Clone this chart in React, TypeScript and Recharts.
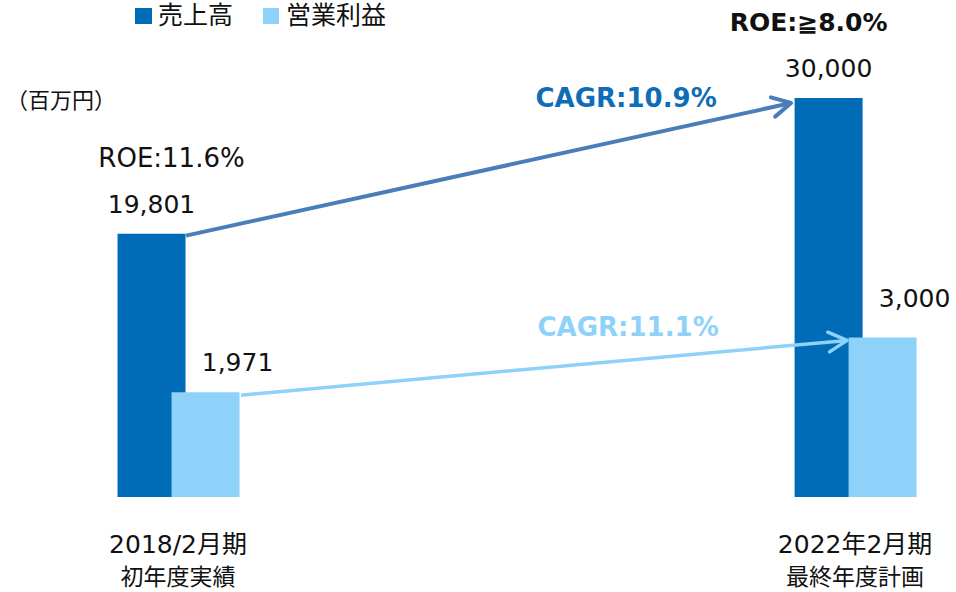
import { BarChart, Bar, XAxis, YAxis, LabelList, ReferenceLine } from 'recharts';

const periods = ['2018/2月期', '2022年2月期'];
const periodNotes = ['初年度実績', '最終年度計画'];
const sales = [19801, 30000];
const profit = [1971, 3000];
const roe = ['ROE:11.6%', 'ROE:≧8.0%'];
const cagr = ['CAGR:10.9%', 'CAGR:11.1%'];
const seriesNames = ['売上高', '営業利益'];

const DARK = '#006bb6';
const LIGHT = '#8fd2f9';
const DARK_ARROW = '#4a7ebb';
const FONT = "'DejaVu Sans', 'Noto Sans CJK JP', sans-serif";

const data = periods.map((p, i) => ({ x: i, period: p, sales: sales[i], profit: profit[i] }));

const fmt = (v: number) => Number(v).toLocaleString('en-US');

function SalesLabel(p: any) {
  const x = Number(p.x), y = Number(p.y), w = Number(p.width);
  const i = p.index;
  const cx = x + w / 2;
  return (
    <g>
      <text x={cx} y={y - 21} textAnchor="middle" fontSize={25} fill="#111">{fmt(p.value)}</text>
      <text
        x={cx + (i === 0 ? 20 : -20)}
        y={y - 67}
        textAnchor="middle"
        fontSize={i === 0 ? 26 : 25}
        fontWeight={i === 1 ? 'bold' : 'normal'}
        fill="#111"
      >
        {roe[i]}
      </text>
    </g>
  );
}

function ProfitLabel(p: any) {
  const x = Number(p.x), y = Number(p.y), w = Number(p.width);
  const i = p.index;
  return (
    <text x={x + w / 2 + 32} y={y - (i === 0 ? 21 : 30)} textAnchor="middle" fontSize={25} fill="#111">
      {fmt(p.value)}
    </text>
  );
}

function PeriodTick(p: any) {
  const i = p.payload.value;
  return (
    <g>
      <text x={p.x} y={p.y} dy={48} textAnchor="middle" fontSize={25} fill="#111">{periods[i]}</text>
      <text x={p.x} y={p.y} dy={80} textAnchor="middle" fontSize={23} fill="#111">{periodNotes[i]}</text>
    </g>
  );
}

function makeArrow(color: string, width: number, label: string, labelColor: string, o: any) {
  return (p: any) => {
    const sx = p.x1 + o.sx, sy = p.y1 + o.sy;
    const ex = p.x2 + o.ex, ey = p.y2 + o.ey;
    const ang = Math.atan2(ey - sy, ex - sx);
    const L = 21, a = 0.49;
    const h1 = [ex - L * Math.cos(ang - a), ey - L * Math.sin(ang - a)];
    const h2 = [ex - L * Math.cos(ang + a), ey - L * Math.sin(ang + a)];
    return (
      <g>
        <line x1={sx} y1={sy} x2={ex} y2={ey} stroke={color} strokeWidth={width} />
        <polyline
          points={`${h1[0]},${h1[1]} ${ex},${ey} ${h2[0]},${h2[1]}`}
          fill="none"
          stroke={color}
          strokeWidth={width}
          strokeLinecap="round"
          strokeLinejoin="round"
        />
        <text x={ex + o.tx} y={ey + o.ty} textAnchor="middle" fontSize={26} fontWeight="bold" fill={labelColor}>
          {label}
        </text>
      </g>
    );
  };
}

export default function App() {
  return (
    <div style={{ position: 'absolute', left: 0, top: 0, width: 956, height: 592, background: '#fff', fontFamily: FONT }}>
      <div style={{ position: 'absolute', left: 135, top: 2, display: 'flex', alignItems: 'center', fontSize: 25, lineHeight: '28px', color: '#111' }}>
        <span style={{ width: 17, height: 16, background: DARK, display: 'inline-block', marginRight: 6 }} />
        <span>{seriesNames[0]}</span>
        <span style={{ width: 16, height: 16, background: LIGHT, display: 'inline-block', marginLeft: 30, marginRight: 7 }} />
        <span>{seriesNames[1]}</span>
      </div>
      <div style={{ position: 'absolute', left: 6, top: 86, fontSize: 22, lineHeight: '30px', color: '#111' }}>（百万円）</div>
      <BarChart
        width={956}
        height={592}
        data={data}
        margin={{ top: 98, right: 0, bottom: 0, left: 0 }}
        barGap={-14}
        style={{ fontFamily: FONT }}
      >
        <XAxis
          type="number"
          dataKey="x"
          domain={[-0.263, 1.149]}
          ticks={[0, 1]}
          interval={0}
          height={95}
          axisLine={false}
          tickLine={false}
          tick={<PeriodTick />}
        />
        <YAxis yAxisId="sales" domain={[0, 30000]} hide />
        <YAxis yAxisId="profit" orientation="right" domain={[0, 7500]} hide />
        <Bar dataKey="sales" name={seriesNames[0]} yAxisId="sales" fill={DARK} barSize={68} isAnimationActive={false}>
          <LabelList dataKey="sales" content={<SalesLabel />} />
        </Bar>
        <Bar dataKey="profit" name={seriesNames[1]} yAxisId="profit" fill={LIGHT} barSize={68} isAnimationActive={false}>
          <LabelList dataKey="profit" content={<ProfitLabel />} />
        </Bar>
        <ReferenceLine
          yAxisId="sales"
          segment={[{ x: 0, y: sales[0] }, { x: 1, y: sales[1] }]}
          shape={makeArrow(DARK_ARROW, 4, cagr[0], '#0f6db8', { sx: 8, sy: 2, ex: -64, ey: 5, tx: -165, ty: 4 })}
        />
        <ReferenceLine
          yAxisId="profit"
          segment={[{ x: 0, y: profit[0] }, { x: 1, y: profit[1] }]}
          shape={makeArrow(LIGHT, 3.5, cagr[1], LIGHT, { sx: 63, sy: 3, ex: -8, ey: 3, tx: -219, ty: -4 })}
        />
      </BarChart>
    </div>
  );
}
